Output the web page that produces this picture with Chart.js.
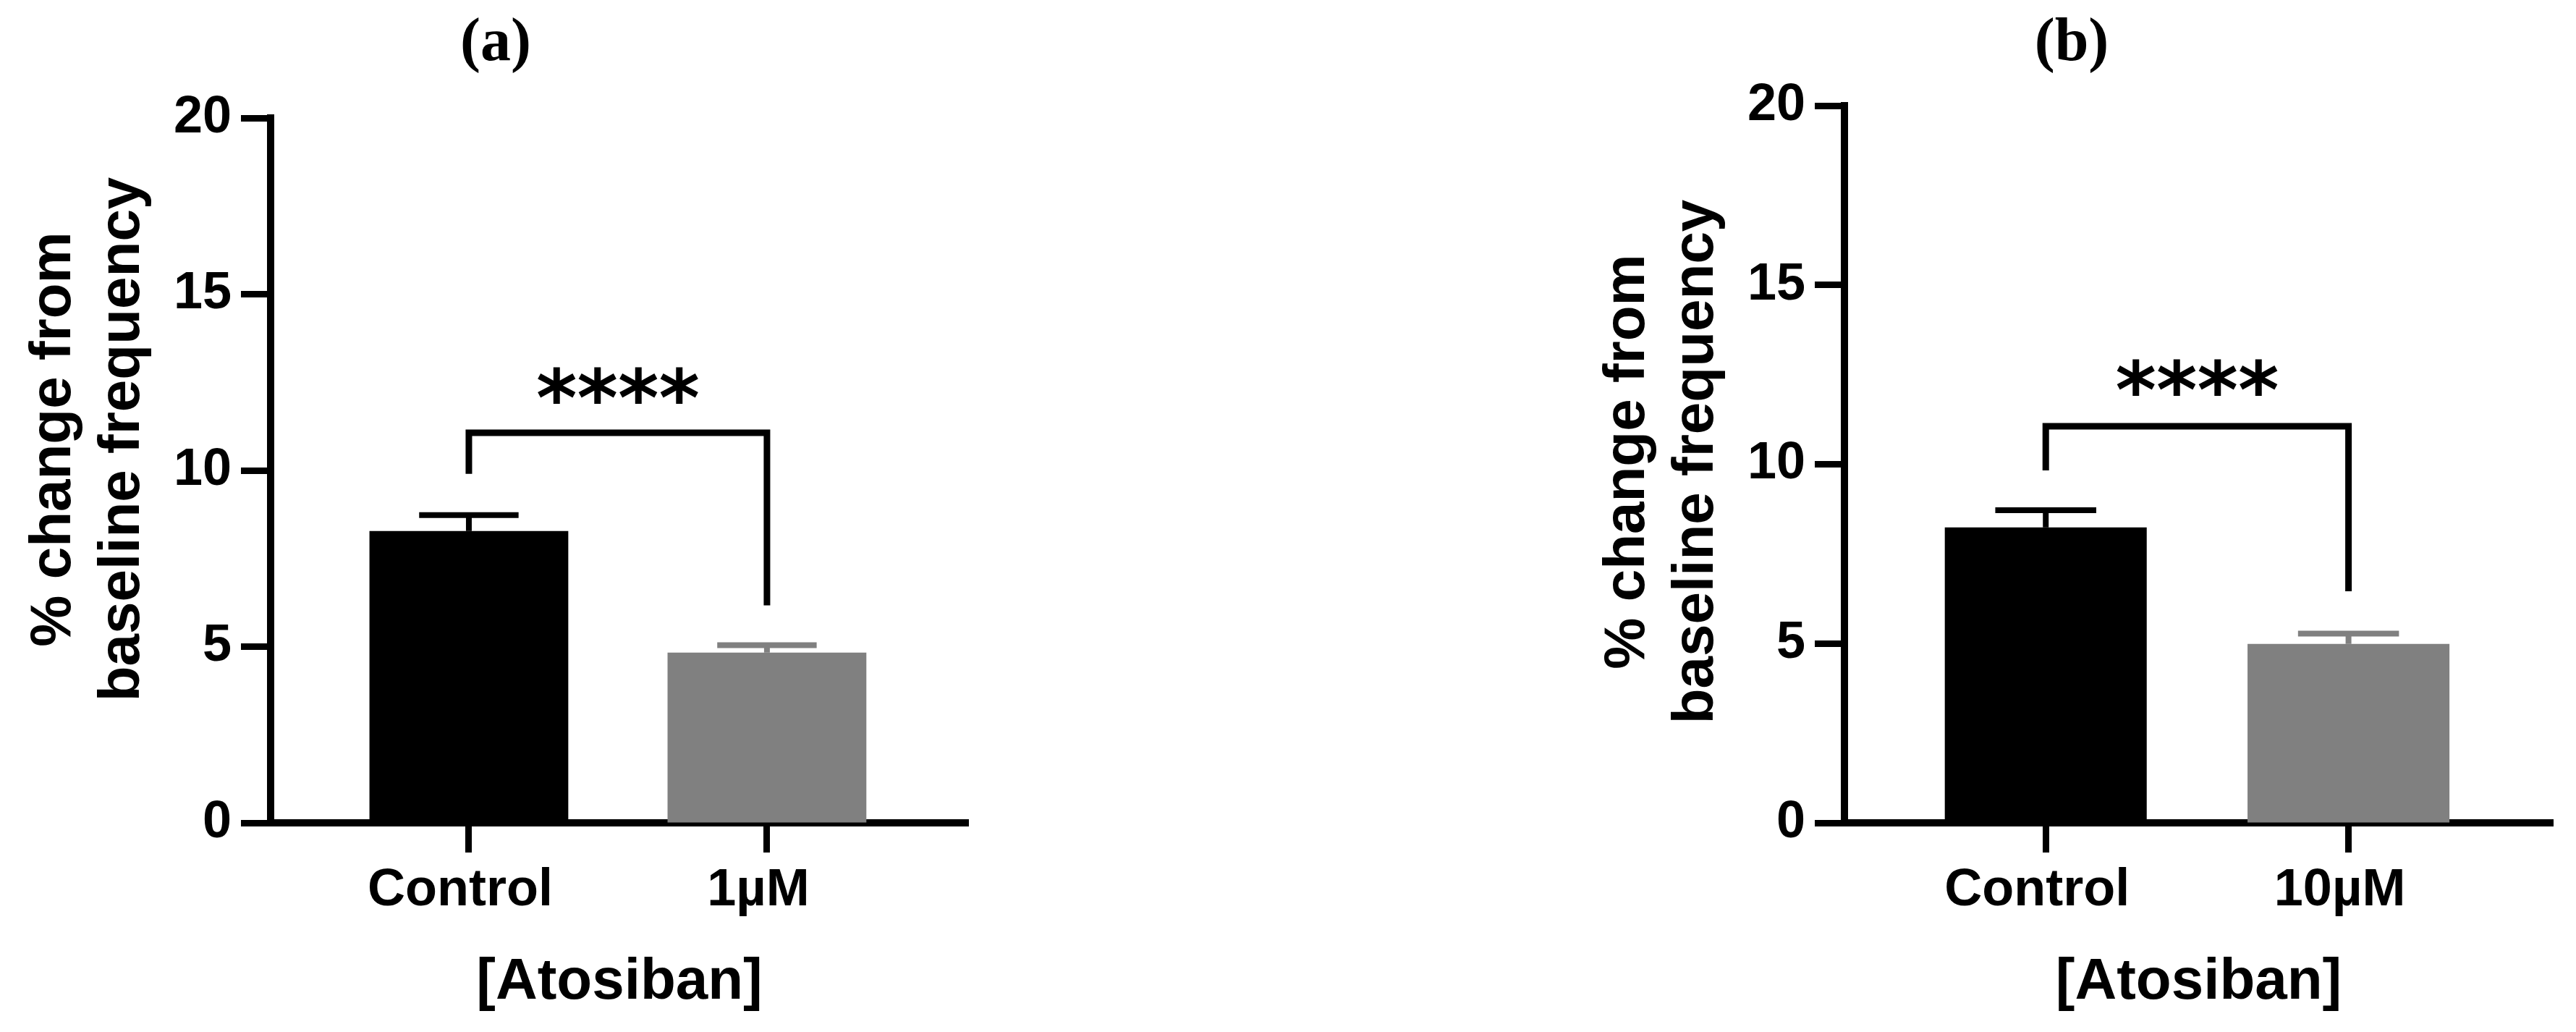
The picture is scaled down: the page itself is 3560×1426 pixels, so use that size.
<!DOCTYPE html>
<html>
<head>
<meta charset="utf-8">
<script src="https://cdn.jsdelivr.net/npm/chart.js@4.4.1/dist/chart.umd.min.js"></script>
<style>
  html, body { margin: 0; padding: 0; background: #fff; }
  body { width: 3560px; height: 1426px; position: relative; overflow: hidden; }
  .panel { position: absolute; top: 0; }
</style>
</head>
<body>
<div class="panel" style="left:0px"><canvas id="chartA" width="1358" height="1426"></canvas></div>
<div class="panel" style="left:2175px"><canvas id="chartB" width="1373" height="1426"></canvas></div>
<script>
// values (mean and SEM, % change from baseline)
const categoriesA = ["Control", "1µM"];
const categoriesB = ["Control", "10µM"];
const meanA = [8.28, 4.83];
const semA = [0.45, 0.21];
const meanB = [8.24, 4.99];
const semB = [0.48, 0.29];
// significance bracket: left leg end, bracket height, right leg end
const bracketA = [9.9, 11.07, 6.17];
const bracketB = [9.83, 11.06, 6.46];
const starLevelA = 12.42;
const starLevelB = 12.42;
const sigText = "****";
const yTickValues = [0, 5, 10, 15, 20];
const yTitle = ["% change from", "baseline frequency"];
const xTitle = "[Atosiban]";

const barColors = ["#000000", "#808080"];
const sans = "Liberation Sans";
const H = 1426;

// pixel layout of each panel (relative to its canvas)
const layoutA = { width: 1358, axisX: 374, top: 163, bottom: 1137, right: 1338, titleX: 685, yTitleY: 607 };
const layoutB = { width: 1373, axisX: 374, top: 146, bottom: 1137, right: 1353, titleX: 688, yTitleY: 638 };

function makeChart(id, label, cats, means, sems, bracket, starLevel, L) {
  const padLeft = 2 * L.titleX - L.right;
  const titleSize = 84;
  const titlePadTop = 11;
  const titlePadBottom = L.top - titlePadTop - titleSize * 1.2;

  const axisLine = {
    offset: false,
    drawOnChartArea: false,
    drawTicks: true,
    tickLength: 41,
    tickWidth: 9,
    tickColor: "#000",
    color: "#000",
  };
  const tickFont = { family: sans, size: 72, weight: "bold" };

  const annot = {
    id: "annot",
    afterDatasetsDraw(chart) {
      const { ctx, scales: { x, y } } = chart;
      const meta = chart.getDatasetMeta(0);
      ctx.save();
      // error bars, upward only
      meta.data.forEach((bar, i) => {
        const half = bar.width / 4;
        const yTop = y.getPixelForValue(means[i] + sems[i]);
        ctx.strokeStyle = barColors[i];
        ctx.lineWidth = 8;
        ctx.beginPath();
        ctx.moveTo(bar.x, bar.y);
        ctx.lineTo(bar.x, yTop);
        ctx.moveTo(bar.x - half, yTop);
        ctx.lineTo(bar.x + half, yTop);
        ctx.stroke();
      });
      // bracket
      const x0 = x.getPixelForValue(0);
      const x1 = x.getPixelForValue(1);
      ctx.strokeStyle = "#000";
      ctx.lineWidth = 9;
      ctx.lineJoin = "miter";
      ctx.lineCap = "butt";
      ctx.beginPath();
      ctx.moveTo(x0, y.getPixelForValue(bracket[0]));
      ctx.lineTo(x0, y.getPixelForValue(bracket[1]));
      ctx.lineTo(x1, y.getPixelForValue(bracket[1]));
      ctx.lineTo(x1, y.getPixelForValue(bracket[2]));
      ctx.stroke();
      // stars
      ctx.font = 'bold 108px "DejaVu Sans"';
      ctx.fillStyle = "#000";
      ctx.textAlign = "center";
      ctx.textBaseline = "alphabetic";
      const m = ctx.measureText(sigText);
      const yc = y.getPixelForValue(starLevel);
      ctx.fillText(sigText, (x0 + x1) / 2, yc + (m.actualBoundingBoxAscent - m.actualBoundingBoxDescent) / 2);
      ctx.restore();
    },
    afterDraw(chart) {
      // y axis title, two lines
      const ctx = chart.ctx;
      ctx.save();
      ctx.font = 'bold 80px "' + sans + '"';
      ctx.fillStyle = "#000";
      ctx.textAlign = "center";
      ctx.textBaseline = "alphabetic";
      const baselines = [L.axisX - 277, L.axisX - 182];
      yTitle.forEach((t, i) => {
        ctx.save();
        ctx.translate(baselines[i], L.yTitleY);
        ctx.rotate(-Math.PI / 2);
        ctx.fillText(t, 0, 0);
        ctx.restore();
      });
      ctx.restore();
    },
  };

  return new Chart(document.getElementById(id), {
    type: "bar",
    data: {
      datasets: [
        {
          data: means.map((v, i) => ({ x: i, y: v })),
          backgroundColor: barColors,
          borderWidth: 0,
          categoryPercentage: 1,
          barPercentage: 0.667,
        },
      ],
    },
    options: {
      responsive: false,
      animation: false,
      devicePixelRatio: 1,
      layout: { padding: { left: padLeft, right: L.width - L.right, top: 0, bottom: 0 } },
      plugins: {
        legend: { display: false },
        tooltip: { enabled: false },
        title: {
          display: true,
          text: label,
          color: "#000",
          font: { family: "Liberation Serif", size: titleSize, weight: "bold", lineHeight: 1.2 },
          padding: { top: titlePadTop, bottom: titlePadBottom },
        },
      },
      scales: {
        x: {
          type: "linear",
          offset: false,
          min: -0.665,
          max: 1.675,
          z: 1,
          afterBuildTicks: (s) => {
            s.ticks = cats.map((c, i) => ({ value: i }));
          },
          afterFit: (s) => {
            s.height = H - L.bottom;
          },
          ticks: {
            callback: (v) => cats[v],
            color: "#000",
            font: tickFont,
            padding: 10,
            labelOffset: -12,
            maxRotation: 0,
            autoSkip: false,
          },
          grid: axisLine,
          border: { display: true, color: "#000", width: 10 },
          title: {
            display: true,
            text: xTitle,
            color: "#000",
            font: { family: sans, size: 80, weight: "bold" },
            padding: { top: 0, bottom: 20 },
          },
        },
        y: {
          min: 0,
          max: 20,
          z: 1,
          afterBuildTicks: (s) => {
            s.ticks = yTickValues.map((v) => ({ value: v }));
          },
          afterFit: (s) => {
            s.width = L.axisX - padLeft;
          },
          ticks: { color: "#000", font: tickFont, padding: 13 },
          grid: axisLine,
          border: { display: true, color: "#000", width: 10 },
        },
      },
    },
    plugins: [annot],
  });
}

makeChart("chartA", "(a)", categoriesA, meanA, semA, bracketA, starLevelA, layoutA);
makeChart("chartB", "(b)", categoriesB, meanB, semB, bracketB, starLevelB, layoutB);
</script>
</body>
</html>
